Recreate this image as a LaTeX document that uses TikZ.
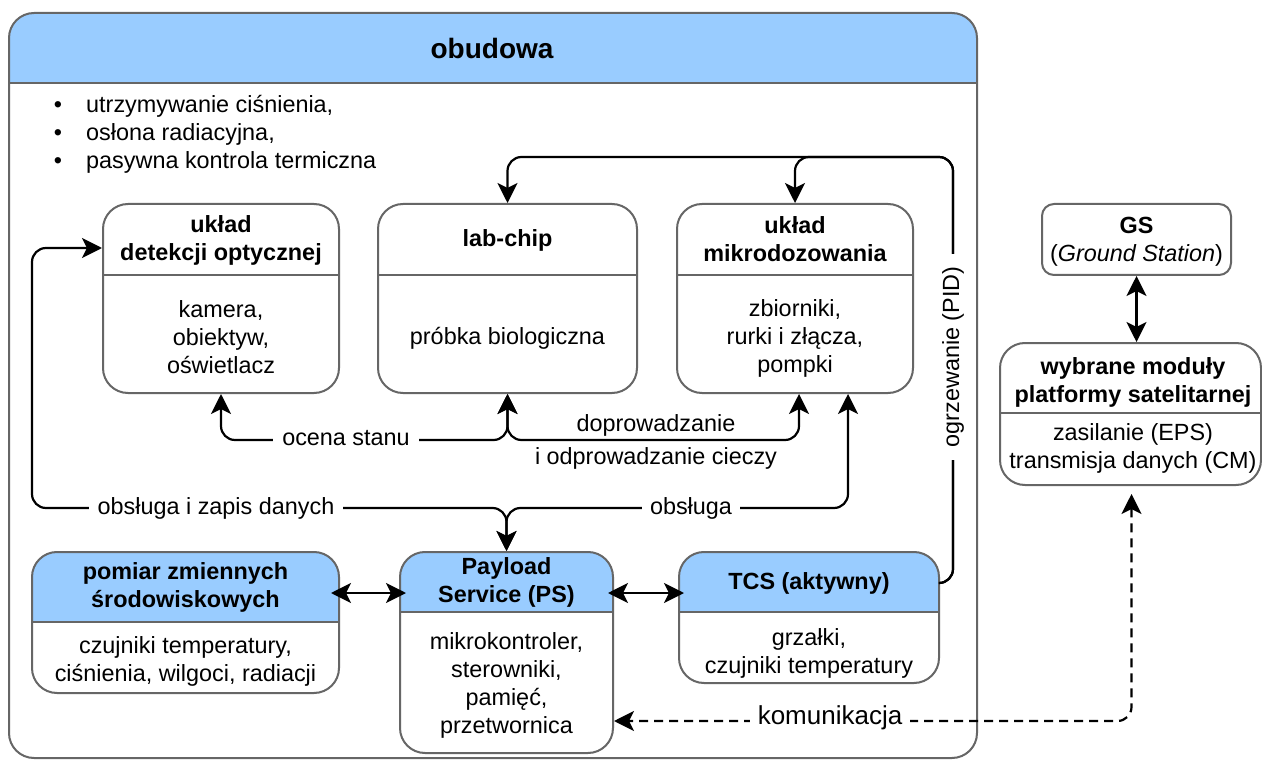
\documentclass[tikz,border=0pt]{standalone}
\usepackage{fontspec}
\setmainfont{Liberation Sans}
\usetikzlibrary{arrows.meta,fit}

\definecolor{hdr}{HTML}{99CCFF}
\definecolor{rim}{HTML}{666666}

\newcommand\bodyfont{\fontsize{23.4pt}{28pt}\selectfont}
\newcommand\headfont{\fontsize{23.4pt}{28pt}\selectfont\bfseries}

\tikzset{hd/.tip={Stealth[length=20pt 0,width=20pt 0,inset=5pt 0]}}

% #1 name, #2 left, #3 top, #4 right, #5 bottom, #6 separator y, #7 header fill, #8 corner radius
\newcommand\drawpanel[8]{%
  \begin{scope}
    \clip[rounded corners=#8] (#2,#3) rectangle (#4,#5);
    \fill[white] (#2,#3) rectangle (#4,#5);
    \fill[#7] (#2,#3) rectangle (#4,#6);
  \end{scope}
  \draw[sepline] (#2,#6) -- (#4,#6);
  \node[panel, rounded corners=#8, fit={(#2,#3) (#4,#5)}] (#1) {};
}

\begin{document}
\begin{tikzpicture}[x=1pt,y=-1pt,
  panel/.style={draw=rim, line width=2pt, inner sep=0pt},
  sepline/.style={draw=rim, line width=2pt},
  conn/.style={draw=black, line width=2.2pt, rounded corners=14pt},
  dashconn/.style={conn, dash pattern=on 9pt off 6pt},
  both/.style={arrows={hd-hd}},
  fwd/.style={arrows={-hd}},
  txt/.style={font=\bodyfont, align=center, inner sep=0pt},
  ttl/.style={font=\headfont, align=center, inner sep=0pt},
  lbl/.style={font=\bodyfont, fill=white, inner xsep=9pt, inner ysep=3pt},
  item/.style={font=\bodyfont, inner sep=0pt}
]
\useasboundingbox (0,0) rectangle (1262,762);

% enclosure
\drawpanel{case}{9}{13}{977}{758}{83}{hdr}{25pt}
\node[font=\fontsize{28pt}{34pt}\selectfont\bfseries, anchor=base, inner sep=0pt] (case-t) at (492,59) {obudowa};
\node[item, anchor=base] (b1) at (58,113) {•};
\node[item, anchor=base] (b2) at (58,141) {•};
\node[item, anchor=base] (b3) at (58,169) {•};
\node[item, anchor=base west] (i1) at (86,113) {utrzymywanie ciśnienia,};
\node[item, anchor=base west] (i2) at (86,141) {osłona radiacyjna,};
\node[item, anchor=base west] (i3) at (86,169) {pasywna kontrola termiczna};

% upper row
\drawpanel{optic}{103}{204}{339}{393}{275}{white}{25pt}
\drawpanel{lab}{378}{204}{637}{393}{275}{white}{25pt}
\drawpanel{micro}{677}{204}{913}{393}{275}{white}{25pt}
% lower row
\drawpanel{env}{32}{552}{339}{693}{622}{hdr}{25pt}
\drawpanel{ps}{400}{552}{613}{753}{612}{hdr}{25pt}
\drawpanel{tcs}{679}{552}{939}{683}{612}{hdr}{25pt}
% satellite platform side
\fill[white, rounded corners=12pt] (1042,204) rectangle (1231,275);
\node[panel, rounded corners=12pt, fit={(1042,204) (1231,275)}] (gs) {};
\drawpanel{sat}{1000}{343}{1261}{485}{413}{white}{25pt}

% panel texts
\node[ttl] (optic-t) at (221,240) {układ\\detekcji optycznej};
\node[txt] (optic-b) at (221,337) {kamera,\\obiektyw,\\oświetlacz};
\node[ttl] (lab-t) at (507.5,240) {lab-chip};
\node[txt] (lab-b) at (507.5,338) {próbka biologiczna};
\node[ttl] (micro-t) at (795,239) {układ\\mikrodozowania};
\node[txt] (micro-b) at (795,338) {zbiorniki,\\rurki i złącza,\\pompki};
\node[ttl] (env-t) at (185.5,587) {pomiar zmiennych\\środowiskowych};
\node[txt] (env-b) at (185.5,661) {czujniki temperatury,\\ciśnienia, wilgoci, radiacji};
\node[ttl] (ps-t) at (506.5,582) {Payload\\Service (PS)};
\node[txt] (ps-b) at (506.5,685) {mikrokontroler,\\sterowniki,\\pamięć,\\przetwornica};
\node[ttl] (tcs-t) at (809,583) {TCS (aktywny)};
\node[txt] (tcs-b) at (809,653) {grzałki,\\czujniki temperatury};
\node[txt] (gs-t) at (1136.5,242) {{\bfseries GS}\\(\textit{Ground Station})};
\node[ttl] (sat-t) at (1133,382) {wybrane moduły\\platformy satelitarnej};
\node[txt] (sat-b) at (1133,448.5) {zasilanie (EPS)\\transmisja danych (CM)};

% connectors
\draw[conn,both] (ps.north) |- (32,508) |- (optic.west |- 0,248);
\draw[conn,both] (ps.north) |- (848,508) -- ([xshift=53pt]micro.south);
\draw[conn,both] (lab.south) |- (optic.south |- 0,440) -- (optic.south);
\draw[conn,both] (lab.south) |- (799,440) -- ([xshift=4pt]micro.south);
\draw[conn,fwd] (tcs.east |- 0,583) -| (953,157) -| (lab.north);
\draw[conn,fwd] (tcs.east |- 0,583) -| (953,157) -| (micro.north);
\draw[conn,both, shorten <=-9pt, shorten >=-7pt] (env.east |- 0,593) -- (ps.west |- 0,593);
\draw[conn,both, shorten <=-6pt, shorten >=-6pt] (ps.east |- 0,593) -- (tcs.west |- 0,593);
\draw[conn,both] (gs.south) -- (gs.south |- sat.north);
\draw[dashconn,both] ([xshift=1pt,yshift=-8pt]sat.south) |- (ps.east |- 0,721);

% connector labels
\node[lbl] (l-ocena) at (346,438) {ocena stanu};
\node[txt] (l-dop1) at (656,425) {doprowadzanie};
\node[txt] (l-dop2) at (656,458) {i odprowadzanie cieczy};
\node[lbl] (l-zapis) at (216,508) {obsługa i zapis danych};
\node[lbl, inner xsep=8pt] (l-obs) at (691,508) {obsługa};
\node[lbl, rotate=90, inner xsep=13pt] (l-pid) at (953,357) {ogrzewanie (PID)};
\node[lbl, font=\fontsize{26pt}{30pt}\selectfont, inner xsep=8pt] (l-kom) at (830,718) {komunikacja};
\end{tikzpicture}
\end{document}
